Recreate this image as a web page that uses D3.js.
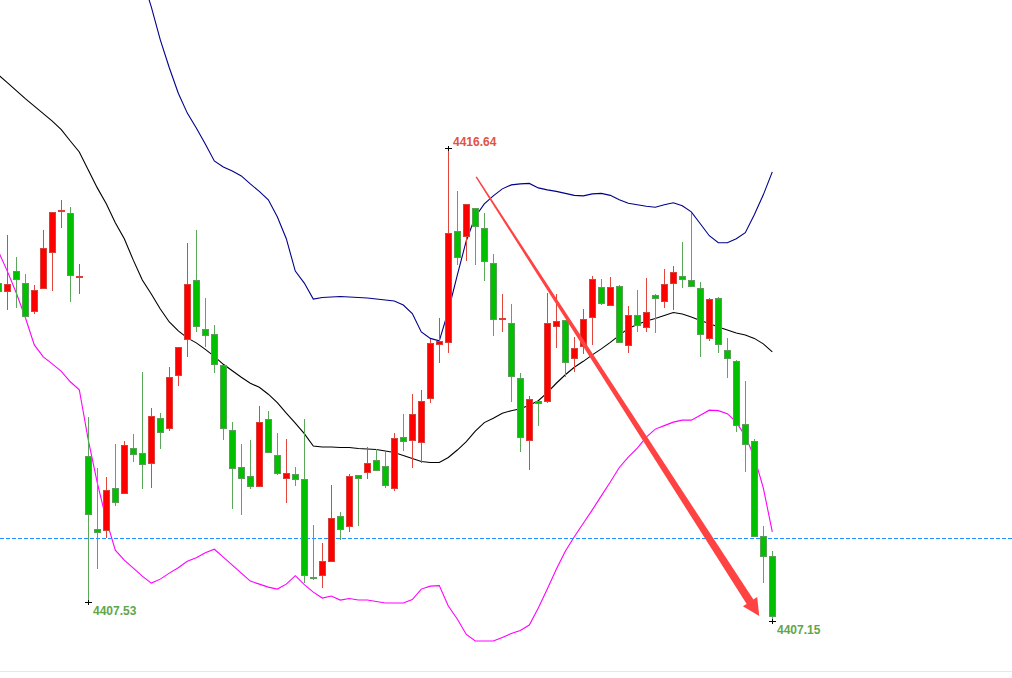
<!DOCTYPE html>
<html>
<head>
<meta charset="utf-8">
<script src="https://cdn.jsdelivr.net/npm/d3@7"></script>
<style>
  html, body { margin: 0; padding: 0; background: #ffffff; }
  svg { display: block; }
</style>
</head>
<body>
<svg id="chart" width="1012" height="678"></svg>
<script>
// ---------------- DATA ----------------
const opens = [4413.93,4413.77,4414.17,4413.93,4413.36,4413.83,4414.55,4415.37,4415.33,4414.05,
4410.46,4408.99,4408.96,4409.80,4409.71,4410.62,4410.52,4410.31,4411.22,4411.01,
4412.08,4412.79,4413.99,4412.99,4412.89,4412.27,4410.98,4410.23,4410.04,4409.85,
4411.20,4410.48,4410.01,4410.08,4409.99,4408.03,4408.07,4408.35,4409.24,4409.04,
4410.06,4410.13,4410.38,4410.24,4409.80,4410.84,4410.78,4410.74,4411.62,4412.70,
4412.74,4414.96,4414.86,4415.42,4415.03,4414.33,4413.20,4413.12,4412.02,4410.77,
4411.55,4411.55,4413.06,4413.18,4412.41,4412.65,4413.24,4413.85,4413.48,4413.87,
4412.67,4413.27,4413.04,4413.69,4413.57,4413.93,4414.07,4413.99,4413.83,4412.82,
4413.63,4412.57,4412.36,4411.10,4410.76,4408.84,4408.45];

const highs = [4413.99,4414.90,4414.46,4414.11,4413.89,4415.00,4415.36,4415.60,4415.46,4414.31,
4411.25,4410.21,4410.03,4410.70,4410.77,4410.90,4412.15,4411.42,4411.32,4412.24,
4412.65,4414.74,4415.00,4413.64,4413.09,4412.27,4411.15,4410.70,4410.78,4411.47,
4411.36,4410.93,4410.80,4410.24,4411.20,4409.08,4408.72,4409.88,4409.34,4410.10,
4410.08,4410.65,4410.60,4410.54,4410.92,4411.30,4411.70,4411.78,4412.80,4413.22,
4416.64,4415.78,4415.52,4415.43,4415.34,4414.51,4413.71,4413.51,4412.12,4411.66,
4411.57,4413.73,4413.71,4413.18,4412.85,4413.41,4414.07,4414.01,4414.05,4413.89,
4413.46,4413.79,4414.03,4413.71,4414.21,4414.27,4414.76,4415.33,4413.96,4413.64,
4413.66,4412.82,4412.39,4411.97,4410.80,4409.06,4408.56];

const lows = [4413.69,4413.38,4413.42,4413.20,4413.31,4413.83,4413.78,4415.04,4413.56,4413.71,
4407.53,4408.19,4408.81,4409.46,4409.71,4410.35,4409.80,4409.82,4410.61,4410.96,
4411.87,4412.45,4412.95,4412.65,4412.13,4410.78,4409.40,4409.28,4409.79,4409.85,
4410.54,4410.08,4409.51,4409.86,4407.91,4407.97,4407.82,4408.35,4408.78,4408.94,
4409.06,4409.99,4410.17,4409.82,4409.76,4410.57,4410.21,4410.33,4411.53,4412.32,
4412.53,4414.29,4414.38,4414.29,4413.98,4412.87,4412.95,4411.55,4410.55,4410.17,
4411.07,4411.52,4412.62,4412.05,4412.15,4412.51,4412.69,4413.49,4413.48,4412.74,
4412.53,4412.95,4412.95,4412.92,4413.42,4413.39,4413.83,4413.87,4412.45,4412.77,
4412.53,4412.02,4410.95,4410.13,4408.84,4407.92,4407.15];

const closes = [4413.77,4413.91,4414.01,4413.26,4413.79,4414.63,4415.34,4415.38,4414.08,4414.06,
4409.29,4408.92,4409.76,4409.53,4410.68,4410.50,4410.29,4411.26,4410.94,4412.04,
4412.63,4413.91,4413.06,4412.88,4412.30,4411.02,4410.21,4410.01,4409.85,4411.14,
4410.54,4410.10,4410.11,4409.99,4408.07,4408.00,4408.35,4409.21,4408.99,4410.04,
4410.01,4410.31,4410.17,4409.87,4410.82,4410.75,4411.30,4411.56,4412.71,4412.75,
4414.92,4414.44,4415.50,4415.06,4414.36,4413.19,4413.22,4412.05,4410.84,4411.60,
4411.52,4413.12,4413.16,4412.34,4412.62,4413.19,4414.01,4413.52,4413.85,4412.74,
4413.27,4413.07,4413.34,4413.63,4413.91,4414.14,4414.01,4413.87,4412.90,4413.61,
4412.70,4412.42,4411.07,4410.70,4408.84,4408.45,4407.25];

// Bollinger bands (upper band is above the visible area for the first candles)
const upperBand = [null,null,null,null,null,null,null,null,null,null,
null,null,null,null,null,null,4420.05,4419.47,4418.81,4418.25,
4417.74,4417.34,4417.04,4416.72,4416.38,4416.26,4416.18,4416.08,4415.92,4415.77,
4415.60,4415.26,4414.82,4414.17,4413.93,4413.61,4413.64,4413.65,4413.66,4413.65,
4413.64,4413.63,4413.61,4413.59,4413.57,4413.49,4413.32,4412.95,4412.82,4412.77,
4413.37,4414.09,4414.78,4415.26,4415.52,4415.68,4415.82,4415.90,4415.92,4415.93,
4415.84,4415.80,4415.77,4415.73,4415.69,4415.68,4415.72,4415.73,4415.69,4415.60,
4415.53,4415.50,4415.47,4415.45,4415.50,4415.54,4415.48,4415.36,4415.12,4414.88,
4414.74,4414.74,4414.82,4414.94,4415.30,4415.70,4416.16];

const middleBand = [4418.11,4417.95,4417.79,4417.63,4417.48,4417.33,4417.18,4417.01,4416.78,4416.56,
4416.20,4415.84,4415.52,4415.14,4414.82,4414.39,4413.99,4413.71,4413.41,4413.15,
4412.97,4412.83,4412.73,4412.60,4412.46,4412.30,4412.17,4412.04,4411.92,4411.84,
4411.70,4411.53,4411.32,4411.12,4410.91,4410.66,4410.64,4410.64,4410.63,4410.63,
4410.61,4410.60,4410.59,4410.56,4410.53,4410.47,4410.41,4410.35,4410.33,4410.33,
4410.43,4410.58,4410.75,4410.96,4411.13,4411.22,4411.32,4411.37,4411.41,4411.48,
4411.57,4411.73,4411.92,4412.09,4412.24,4412.36,4412.49,4412.61,4412.74,4412.88,
4413.02,4413.10,4413.17,4413.22,4413.28,4413.34,4413.31,4413.25,4413.18,4413.12,
4413.05,4412.99,4412.93,4412.89,4412.82,4412.71,4412.55];

const lowerBand = [4414.57,4414.17,4413.73,4413.24,4412.69,4412.45,4412.31,4412.16,4411.95,4411.79,
4410.78,4409.92,4409.18,4408.57,4408.37,4408.21,4408.05,4407.91,4407.99,4408.11,
4408.22,4408.35,4408.42,4408.52,4408.59,4408.43,4408.27,4408.11,4407.95,4407.89,
4407.83,4407.79,4407.89,4408.06,4407.88,4407.73,4407.61,4407.65,4407.57,4407.60,
4407.57,4407.57,4407.54,4407.51,4407.51,4407.51,4407.58,4407.79,4407.85,4407.86,
4407.45,4407.19,4406.88,4406.75,4406.75,4406.75,4406.82,4406.90,4406.96,4407.07,
4407.41,4407.79,4408.19,4408.55,4408.84,4409.11,4409.38,4409.66,4409.94,4410.23,
4410.44,4410.62,4410.84,4411.00,4411.07,4411.14,4411.18,4411.18,4411.28,4411.38,
4411.37,4411.31,4411.14,4410.86,4410.44,4409.82,4408.94];

const currentPrice = 4408.82;               // dashed horizontal line
const markedHighs = [50];                    // candle indices with high label
const markedLows = [10, 86];                 // candle indices with low label
const arrowFrom = { i: 53.1, p: 4416.06 };   // trend arrow start
const arrowTo = { i: 84.55, p: 4407.25 };    // trend arrow tip

// ---------------- SCALES ----------------
const W = 1012, H = 678;
const n = opens.length;
const x = d3.scaleLinear().domain([0, n - 1]).range([-1.7, 772.3]);
const y = d3.scaleLinear().domain([4407.15, 4416.64]).range([621, 148]);

const svg = d3.select("#chart");
svg.append("rect").attr("width", W).attr("height", H).attr("fill", "#ffffff");

// bottom separator
svg.append("line").attr("x1", 0).attr("x2", W).attr("y1", 671.5).attr("y2", 671.5)
  .attr("stroke", "#e3e9ee").attr("stroke-width", 1);

const idx = d3.range(n);

// ---------------- BANDS ----------------
function bandLine(arr, color) {
  const line = d3.line()
    .defined(i => arr[i] !== null)
    .x(i => x(i))
    .y(i => y(arr[i]));
  svg.append("path").datum(idx).attr("d", line)
    .attr("fill", "none").attr("stroke", color).attr("stroke-width", 1.1);
}
bandLine(upperBand, "#00008b");
bandLine(middleBand, "#000000");
bandLine(lowerBand, "#ff00ff");

// ---------------- DASHED PRICE LINE ----------------
svg.append("line").attr("x1", 0).attr("x2", W)
  .attr("y1", Math.round(y(currentPrice)) + 0.5).attr("y2", Math.round(y(currentPrice)) + 0.5)
  .attr("stroke", "#1e90ff").attr("stroke-width", 1).attr("stroke-dasharray", "4,2");

// ---------------- CANDLES ----------------
const up = i => closes[i] >= opens[i];
const candles = svg.append("g").attr("shape-rendering", "crispEdges");
candles.selectAll("line.wick").data(idx).join("line")
  .attr("class", "wick")
  .attr("x1", i => Math.round(x(i)) + 0.5).attr("x2", i => Math.round(x(i)) + 0.5)
  .attr("y1", i => y(highs[i])).attr("y2", i => y(lows[i]))
  .attr("stroke", i => up(i) ? "#e0463c" : "#5aa85a").attr("stroke-width", 1);

candles.selectAll("rect.body").data(idx).join("rect")
  .attr("class", "body")
  .attr("x", i => Math.round(x(i)) - 2.5)
  .attr("width", 6)
  .attr("y", i => y(Math.max(opens[i], closes[i])))
  .attr("height", i => Math.max(1, Math.abs(y(opens[i]) - y(closes[i]))))
  .attr("fill", i => up(i) ? "#ff0000" : "#00c000")
  .attr("stroke", i => up(i) ? "#d8403a" : "#5a9e5a")
  .attr("stroke-width", 1);

// ---------------- HIGH / LOW MARKERS ----------------
function marker(i, value, color, dy) {
  const cx = Math.round(x(i)) + 0.5, cy = Math.round(y(value)) + 0.5;
  const g = svg.append("g");
  g.append("line").attr("x1", cx - 3.5).attr("x2", cx + 3.5).attr("y1", cy).attr("y2", cy)
    .attr("stroke", "#000").attr("stroke-width", 1).attr("shape-rendering", "crispEdges");
  g.append("line").attr("x1", cx).attr("x2", cx).attr("y1", cy - 2.5).attr("y2", cy + 2.5)
    .attr("stroke", "#000").attr("stroke-width", 1).attr("shape-rendering", "crispEdges");
  g.append("text").attr("x", cx + 4.5).attr("y", cy + dy)
    .attr("font-family", "'Liberation Sans', Arial, sans-serif")
    .attr("font-weight", "bold").attr("font-size", "12px")
    .attr("fill", color).text(value.toFixed(2));
}
markedHighs.forEach(i => marker(i, highs[i], "#e2533f", -2.5));
markedLows.forEach(i => marker(i, lows[i], "#5fa64a", 12.5));

// ---------------- TREND ARROW ----------------
(function () {
  const sx = x(arrowFrom.i), sy = y(arrowFrom.p);
  const tx = x(arrowTo.i), ty = y(arrowTo.p);
  const dx = tx - sx, dy = ty - sy, len = Math.hypot(dx, dy);
  const ux = dx / len, uy = dy / len, nx = -uy, ny = ux;
  const hl = 17, hw = 8.5, w0 = 0.7, w1 = 4;
  const bx = tx - ux * hl, by = ty - uy * hl;
  const pts = [
    [sx + nx * w0, sy + ny * w0],
    [bx + nx * w1, by + ny * w1],
    [bx + nx * hw, by + ny * hw],
    [tx, ty],
    [bx - nx * hw, by - ny * hw],
    [bx - nx * w1, by - ny * w1],
    [sx - nx * w0, sy - ny * w0]
  ];
  svg.append("polygon").attr("points", pts.map(p => p.join(",")).join(" "))
    .attr("fill", "#ff4242");
})();
</script>
</body>
</html>
